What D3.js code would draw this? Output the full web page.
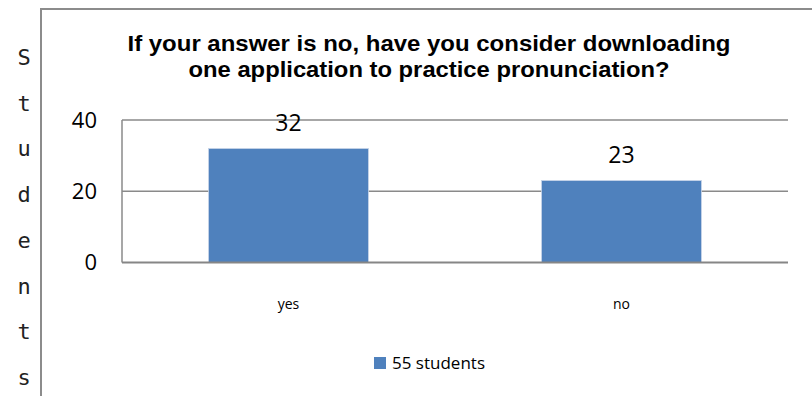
<!DOCTYPE html>
<html>
<head>
<meta charset="utf-8">
<script src="https://cdn.jsdelivr.net/npm/d3@7"></script>
<style>
  html, body { margin: 0; padding: 0; background: #fff; }
  svg { display: block; }
</style>
</head>
<body>
<svg id="chart" width="812" height="396"></svg>
<script>
// Survey answers
const categories = ["yes", "no"];
const values = [32, 23];
const seriesName = "55 students";
const yTicks = [0, 20, 40];
const titleLines = [
  "If your answer is no, have you consider downloading",
  "one application to practice pronunciation?"
];
const axisTitle = "Students";

const svg = d3.select("#chart");
const barColor = "#4f81bd";
const gridColor = "#8a8a8a";

// Outer chart frame (runs off the right and bottom edges)
svg.append("path")
  .attr("d", "M41,400 L41,9 L816,9")
  .attr("fill", "none")
  .attr("stroke", "#8c8c8c")
  .attr("stroke-width", 2);

const x = d3.scaleBand()
  .domain(categories)
  .range([122, 788])
  .paddingInner(0.52)
  .paddingOuter(0.26);

const y = d3.scaleLinear()
  .domain([0, 40])
  .range([262.5, 120]);

// Gridlines
svg.append("g")
  .selectAll("line")
  .data(yTicks.filter(t => t > 0))
  .join("line")
  .attr("x1", 122).attr("x2", 788)
  .attr("y1", d => y(d)).attr("y2", d => y(d))
  .attr("stroke", gridColor)
  .attr("stroke-width", 1.5);

// Value axis line
svg.append("line")
  .attr("x1", 122).attr("x2", 122)
  .attr("y1", y(40)).attr("y2", y(0))
  .attr("stroke", gridColor)
  .attr("stroke-width", 1.5);

// Tick labels
svg.append("g")
  .selectAll("text")
  .data(yTicks)
  .join("text")
  .attr("x", 97)
  .attr("y", d => y(d))
  .attr("dy", "0.36em")
  .attr("text-anchor", "end")
  .attr("font-family", "'Open Sans', sans-serif")
  .attr("font-size", 22)
  .attr("fill", "#000")
  .text(d => d);

// Bars
svg.append("g")
  .selectAll("rect")
  .data(values)
  .join("rect")
  .attr("x", (d, i) => x(categories[i]))
  .attr("width", x.bandwidth())
  .attr("y", d => y(d))
  .attr("height", d => y(0) - y(d))
  .attr("fill", barColor)
  .attr("stroke", "#c6d4e8")
  .attr("stroke-width", 0.8);

// Category axis baseline
svg.append("line")
  .attr("x1", 122).attr("x2", 788)
  .attr("y1", y(0)).attr("y2", y(0))
  .attr("stroke", "#868686")
  .attr("stroke-width", 2.2);

// Value labels
svg.append("g")
  .selectAll("text")
  .data(values)
  .join("text")
  .attr("x", (d, i) => x(categories[i]) + x.bandwidth() / 2)
  .attr("y", d => y(d) - 18)
  .attr("text-anchor", "middle")
  .attr("font-family", "'Open Sans', sans-serif")
  .attr("font-size", 23)
  .attr("fill", "#000")
  .text(d => d);

// Category labels
svg.append("g")
  .selectAll("text")
  .data(categories)
  .join("text")
  .attr("x", d => x(d) + x.bandwidth() / 2)
  .attr("y", 309)
  .attr("text-anchor", "middle")
  .attr("font-family", "'Open Sans', sans-serif")
  .attr("font-size", 14)
  .attr("fill", "#000")
  .text(d => d);

// Title, fitted to the width of the two-line heading
const titleWidths = [603, 481];
svg.append("g")
  .selectAll("text")
  .data(titleLines)
  .join("text")
  .attr("x", 429)
  .attr("y", (d, i) => 51 + i * 26)
  .attr("text-anchor", "middle")
  .attr("font-family", "'Liberation Sans Narrow', 'Liberation Sans', Arial, sans-serif")
  .attr("font-weight", "bold")
  .attr("font-size", 22)
  .attr("textLength", (d, i) => titleWidths[i])
  .attr("lengthAdjust", "spacingAndGlyphs")
  .attr("fill", "#000")
  .text(d => d);

// Vertical axis title, one letter per line
svg.append("g")
  .selectAll("text")
  .data(axisTitle.split(""))
  .join("text")
  .attr("x", 24)
  .attr("y", (d, i) => 65 + i * 45.7)
  .attr("text-anchor", "middle")
  .attr("font-family", "'DejaVu Sans Mono', monospace")
  .attr("font-size", 22)
  .attr("fill", "#222")
  .text(d => d);

// Legend
const legend = svg.append("g").attr("transform", "translate(374,357)");
legend.append("rect")
  .attr("width", 12).attr("height", 12)
  .attr("fill", barColor);
legend.append("text")
  .attr("x", 18).attr("y", 12)
  .attr("font-family", "'Open Sans', sans-serif")
  .attr("font-size", 17)
  .attr("fill", "#000")
  .text(seriesName);
</script>
</body>
</html>
